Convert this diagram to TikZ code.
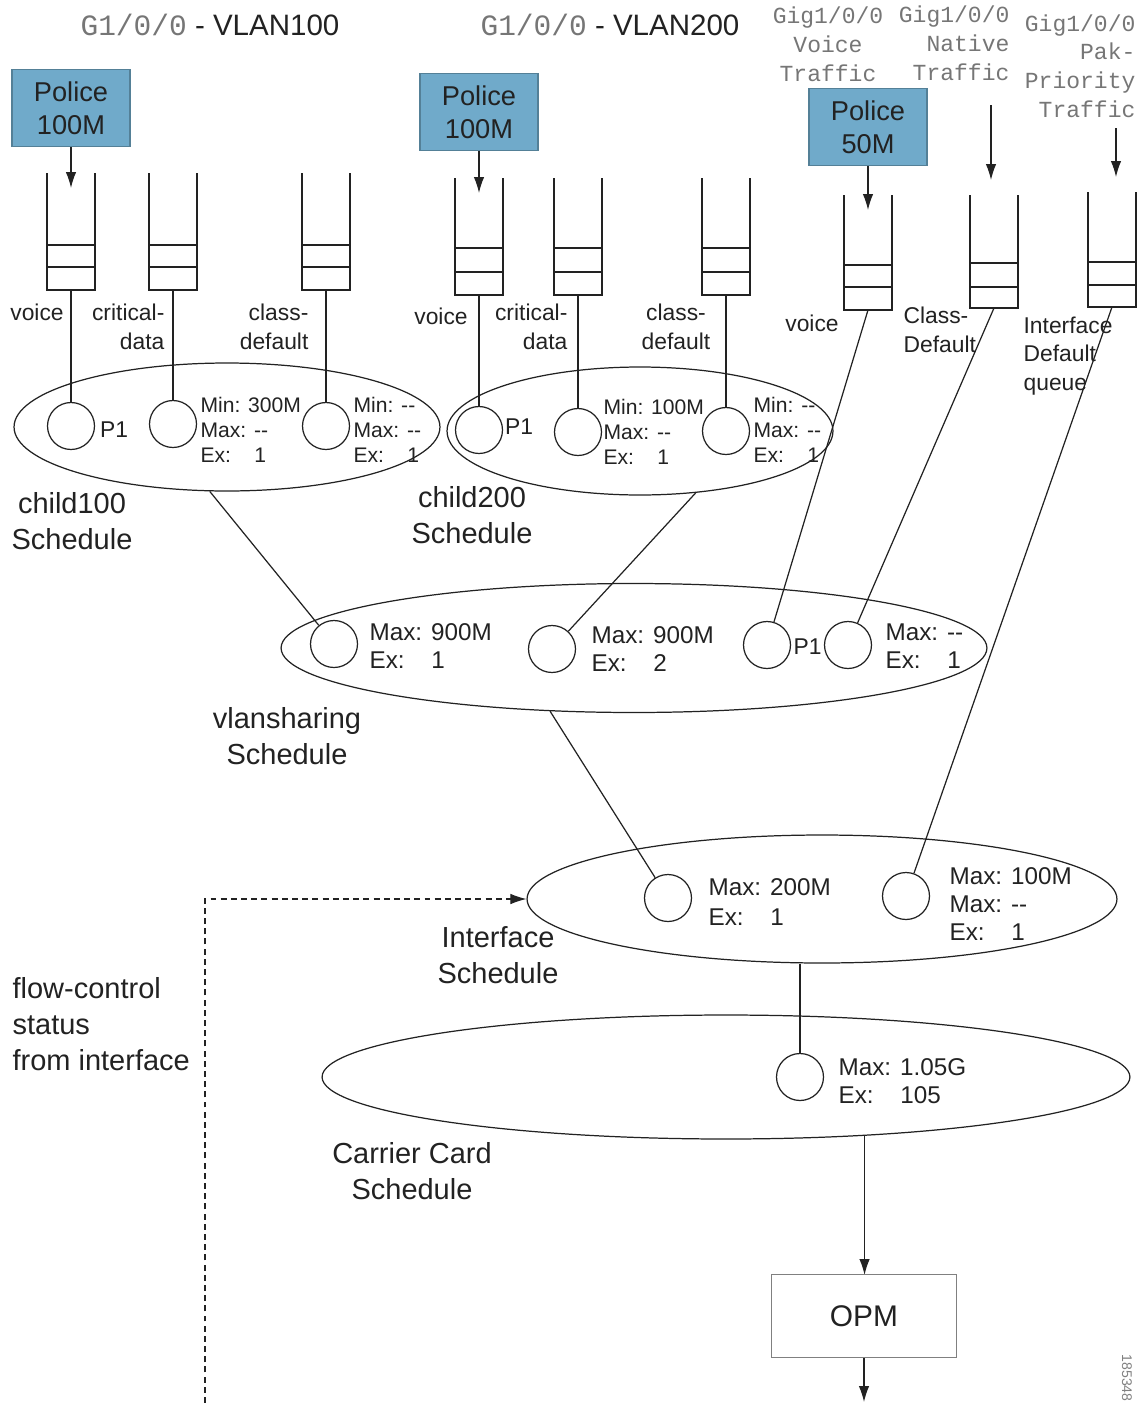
\documentclass[tikz,border=0pt]{standalone}
\usepackage{fontspec}
\setmainfont{Liberation Sans}
\setmonofont{Liberation Mono}
\usetikzlibrary{shapes.geometric,arrows.meta}

\definecolor{policeblue}{RGB}{112,170,202}
\definecolor{portgray}{RGB}{118,118,118}
\definecolor{ink}{RGB}{34,34,34}

\tikzset{
  flow/.style={-{Latex[length=3.2mm,width=2.1mm]}},
  police/.style={draw=policeblue!75!black, fill=policeblue, text=ink, minimum width=2.36cm, minimum height=1.54cm, inner sep=0pt, align=center, font=\fontsize{15.5}{19}\selectfont},
  sched/.style={draw, ellipse, inner sep=0pt},
  cls/.style={draw, circle, minimum size=0.94cm, inner sep=0pt},
  qlabel/.style={inner sep=0pt, font=\fontsize{13}{16.3}\selectfont},
  rate/.style={inner sep=0pt, anchor=west, align=left, font=\fontsize{12}{14.2}\selectfont},
  bigrate/.style={rate, font=\fontsize{13.8}{16}\selectfont},
  schedname/.style={inner sep=0pt, align=center, font=\fontsize{16.5}{20.5}\selectfont},
  port/.style={inner sep=0pt, text=portgray, font=\fontsize{13.1}{16.4}\selectfont\ttfamily}
}

\begin{document}
\begin{tikzpicture}[x=0.02cm, y=-0.02cm, line width=0.7pt, color=ink, text=ink]

  \useasboundingbox (0,0) rectangle (1145,1403);

  \node[inner sep=0pt, font=\fontsize{16.8}{20}\selectfont] (vlan100) at (210,25) {\textcolor{portgray}{\ttfamily G1/0/0} - VLAN100};
  \node[inner sep=0pt, font=\fontsize{16.8}{20}\selectfont] (vlan200) at (610,25) {\textcolor{portgray}{\ttfamily G1/0/0} - VLAN200};

  \node[port, align=center] (gvoice) at (828,44) {Gig1/0/0\\Voice\\Traffic};
  \node[port, align=right, anchor=east] (gnative) at (1010,43) {Gig1/0/0\\Native\\Traffic};
  \node[port, align=right, anchor=east] (gpak) at (1136,66) {Gig1/0/0\\Pak-\\Priority\\Traffic};

  \node[police] (p100) at (71,108) {Police\\100M};
  \node[police] (p200) at (479,112) {Police\\100M};
  \node[police] (p50) at (868,127) {Police\\50M};

  \foreach \q/\x/\t/\a/\b/\e in {1/71/173/245/267/290, 2/173/173/245/267/290, 3/326/173/245/267/290,
                                 4/479/178/248/272/295, 5/578/178/248/272/295, 6/726/178/248/272/295,
                                 7/868/195/265/287/310, 8/994/195/263/287/308, 9/1112/192/262/285/307}
  {
    \draw (\x-24,\t) -- (\x-24,\e) -- (\x+24,\e) -- (\x+24,\t);
    \draw (\x-24,\a) -- (\x+24,\a) (\x-24,\b) -- (\x+24,\b);
    \coordinate (q\q) at (\x,\e);
    \coordinate (qin\q) at (\x,\t+15);
  }

  \coordinate (nsrc) at (991,105);
  \coordinate (nin) at (991,180);
  \coordinate (psrc) at (1116,128);
  \coordinate (pin) at (1116,177);

  \draw[flow] (p100) -- (qin1);
  \draw[flow] (p200) -- (qin4);
  \draw[flow] (p50) -- (qin7);
  \draw[flow] (nsrc) -- (nin);
  \draw[flow] (psrc) -- (pin);

  \node[qlabel] (lvoice1) at (37,312) {voice};
  \node[qlabel, align=right, anchor=east] (lcrit1) at (165,327) {critical-\\data};
  \node[qlabel, align=right, anchor=east] (ldef1) at (309,327) {class-\\default};
  \node[qlabel] (lvoice2) at (441,316) {voice};
  \node[qlabel, align=right, anchor=east] (lcrit2) at (568,327) {critical-\\data};
  \node[qlabel, align=center] (ldef2) at (676,327) {class-\\default};
  \node[qlabel] (lvoice3) at (812,323) {voice};
  \node[qlabel, align=left, anchor=west] (ldef3) at (903,330) {Class-\\Default};
  \node[qlabel, align=left, anchor=west] (lintq) at (1023,356) {Interface\\Default\\queue};

  \node[sched, minimum width=8.52cm, minimum height=2.56cm] (child100) at (227,427) {};
  \node[sched, minimum width=7.72cm, minimum height=2.56cm] (child200) at (640,431) {};
  \node[sched, minimum width=14.12cm, minimum height=2.58cm] (vlanshare) at (634,648) {};
  \node[sched, minimum width=11.8cm, minimum height=2.56cm] (intf) at (822,899) {};
  \node[sched, minimum width=16.16cm, minimum height=2.48cm] (carrier) at (726,1077) {};

  \foreach \c/\x/\y in {1/71/426, 2/173/424, 3/326/426, 4/479/430, 5/578/432, 6/726/431,
                        7/334/644, 8/552/649, 9/767/645, 10/848/645, 11/668/898, 12/906/896, 13/800/1077}
  \node[cls] (c\c) at (\x,\y) {};

  \foreach \q/\c in {1/1, 2/2, 3/3, 4/4, 5/5, 6/6, 7/9, 8/10, 9/12}
  \draw (q\q) -- (c\c);

  \draw (child100.-105) -- (c7);
  \draw (child200.-48) -- (c8);
  \draw (vlanshare.-143) -- (c11);
  \draw (c13 |- intf.south) -- (c13);
  \draw[flow] (carrier.-23) -- (carrier.-23 |- 0,1275);

  \node[qlabel] (p1a) at (114,430) {P1};
  \node[qlabel] (p1b) at (519,427) {P1};
  \node[qlabel, anchor=west] (p1c) at (793,647) {P1};

  \node[rate] (r2) at (200,430) {Min: 300M\\Max: -{}-\\Ex:\hspace{1.1em}1};
  \node[rate] (r3) at (353,430) {Min: -{}-\\Max: -{}-\\Ex:\hspace{1.1em}1};
  \node[rate] (r5) at (603,432) {Min: 100M\\Max: -{}-\\Ex:\hspace{1.1em}1};
  \node[rate] (r6) at (753,430) {Min: -{}-\\Max: -{}-\\Ex:\hspace{1.1em}1};
  \node[bigrate] (r7) at (369,646) {Max: 900M\\Ex:\hspace{1.1em}1};
  \node[bigrate] (r8) at (591,649) {Max: 900M\\Ex:\hspace{1.1em}2};
  \node[bigrate] (r10) at (885,646) {Max: -{}-\\Ex:\hspace{1.1em}1};
  \node[bigrate, font=\fontsize{13.8}{17}\selectfont] (r11) at (708,902) {Max: 200M\\Ex:\hspace{1.1em}1};
  \node[bigrate] (r12) at (949,904) {Max: 100M\\Max: -{}-\\Ex:\hspace{1.1em}1};
  \node[bigrate] (r13) at (838,1081) {Max: 1.05G\\Ex:\hspace{1.1em}105};

  \node[schedname] (n100) at (72,521) {child100\\Schedule};
  \node[schedname] (n200) at (472,515) {child200\\Schedule};
  \node[schedname] (nvlan) at (287,736) {vlansharing\\Schedule};
  \node[schedname] (nintf) at (498,955) {Interface\\Schedule};
  \node[schedname] (ncarr) at (412,1171) {Carrier Card\\Schedule};
  \node[schedname, align=left, anchor=west] (nflow) at (12,1024) {flow-control\\status\\from interface};

  \node[draw=gray, minimum width=3.7cm, minimum height=1.66cm, inner sep=0pt, font=\fontsize{17}{20}\selectfont] (opm) at (864,1316) {OPM};
  \coordinate (out) at (864,1402);
  \draw[flow] (opm) -- (out);

  \coordinate (fbot) at (205,1403);
  \draw[flow, dashed, dash pattern=on 3.4pt off 2.4pt, line width=0.6pt] (fbot) |- (intf.west);

  \node[rotate=-90, inner sep=0pt, text=gray, font=\fontsize{8}{8}\selectfont] (figno) at (1127,1378) {185348};

\end{tikzpicture}
\end{document}
